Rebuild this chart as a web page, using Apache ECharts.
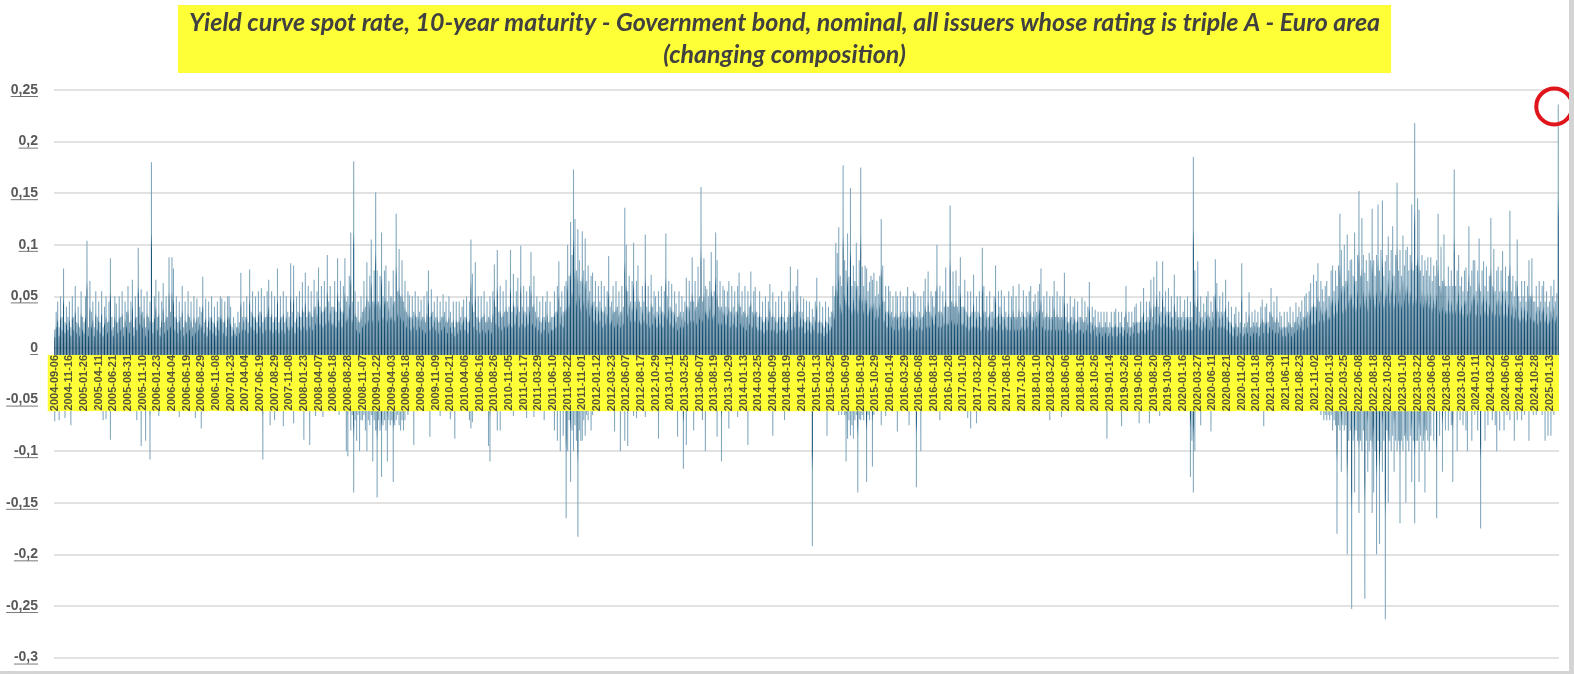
<!DOCTYPE html>
<html>
<head>
<meta charset="utf-8">
<script src="https://cdn.jsdelivr.net/npm/echarts@6/dist/echarts.min.js"></script>
<style>
  html, body { margin: 0; padding: 0; background: #fff; }
  /* chart frame: grey strip on the right and at the bottom like the screenshot */
  #main {
    width: 1569px;
    height: 671px;
    border-right: 5px solid #d4d4d4;
    border-bottom: 3px solid #d4d4d4;
  }
</style>
</head>
<body>
<div id="main"></div>
<script>
// labelled dates on the category axis (every 10th slot carries one)
const dateLabels = [
  '2004-09-06', '2004-11-16',
  '2005-01-26', '2005-04-11', '2005-06-21', '2005-08-31', '2005-11-10',
  '2006-01-23', '2006-04-04', '2006-06-19', '2006-08-29', '2006-11-08',
  '2007-01-23', '2007-04-04', '2007-06-19', '2007-08-29', '2007-11-08',
  '2008-01-23', '2008-04-07', '2008-06-18', '2008-08-28', '2008-11-07',
  '2009-01-22', '2009-04-03', '2009-06-18', '2009-08-28', '2009-11-09',
  '2010-01-21', '2010-04-06', '2010-06-16', '2010-08-26', '2010-11-05',
  '2011-01-17', '2011-03-29', '2011-06-10', '2011-08-22', '2011-11-01',
  '2012-01-12', '2012-03-23', '2012-06-07', '2012-08-17', '2012-10-29',
  '2013-01-11', '2013-03-25', '2013-06-07', '2013-08-19', '2013-10-29',
  '2014-01-13', '2014-03-25', '2014-06-09', '2014-08-19', '2014-10-29',
  '2015-01-13', '2015-03-25', '2015-06-09', '2015-08-19', '2015-10-29',
  '2016-01-14', '2016-03-29', '2016-06-08', '2016-08-18', '2016-10-28',
  '2017-01-10', '2017-03-22', '2017-06-06', '2017-08-16', '2017-10-26',
  '2018-01-10', '2018-03-22', '2018-06-06', '2018-08-16', '2018-10-26',
  '2019-01-14', '2019-03-26', '2019-06-10', '2019-08-20', '2019-10-30',
  '2020-01-16', '2020-03-27', '2020-06-11', '2020-08-21', '2020-11-02',
  '2021-01-18', '2021-03-30', '2021-06-11', '2021-08-23', '2021-11-02',
  '2022-01-13', '2022-03-25', '2022-06-08', '2022-08-18', '2022-10-28',
  '2023-01-10', '2023-03-22', '2023-06-06', '2023-08-16', '2023-10-26',
  '2024-01-11', '2024-03-22', '2024-06-06', '2024-08-16', '2024-10-28',
  '2025-01-13'
]
const slotsPerLabel = 10

// largest daily rise in each slot (one row per labelled period)
const rises = [
  .018, .035, .045, .02, .05, .03, .077, .025, .04, .03,
  .045, .02, .05, .03, .06, .025, .04, .02, .055, .03,
  .025, .05, .104, .02, .065, .035, .045, .02, .055, .03,
  .045, .025, .055, .02, .04, .05, .025, .045, .087, .03,
  .02, .05, .043, .025, .05, .03, .055, .02, .045, .035,
  .06, .025, .045, .066, .02, .05, .03, .097, .04, .057,
  .035, .05, .02, .055, .03, .045, .18, .025, .05, .066,
  .03, .055, .02, .045, .063, .025, .05, .03, .088, .035,
  .088, .077, .03, .05, .025, .045, .03, .06, .02, .045,
  .025, .055, .03, .045, .02, .05, .025, .048, .03, .04,
  .035, .069, .025, .048, .02, .045, .03, .05, .025, .04,
  .02, .045, .03, .05, .048, .025, .045, .02, .05, .05,
  .04, .02, .03, .024, .02, .035, .025, .073, .03, .045,
  .03, .05, .025, .076, .035, .055, .03, .05, .025, .055,
  .035, .058, .025, .05, .03, .055, .066, .03, .055, .025,
  .05, .03, .077, .025, .05, .03, .055, .025, .05, .035,
  .03, .082, .035, .08, .025, .05, .035, .055, .03, .064,
  .035, .073, .03, .06, .035, .055, .03, .066, .04, .055,
  .078, .04, .06, .035, .065, .04, .09, .045, .06, .04,
  .04, .065, .035, .087, .045, .065, .035, .06, .087, .045,
  .05, .07, .112, .045, .181, .055, .03, .045, .025, .05,
  .035, .065, .04, .083, .045, .07, .105, .045, .075, .151,
  .075, .045, .07, .112, .05, .075, .08, .045, .065, .05,
  .05, .075, .045, .13, .055, .096, .05, .085, .045, .065,
  .035, .055, .051, .03, .05, .035, .055, .03, .05, .035,
  .047, .03, .05, .025, .055, .075, .03, .057, .035, .045,
  .03, .05, .025, .045, .03, .052, .035, .045, .025, .05,
  .035, .025, .045, .02, .045, .025, .045, .03, .04, .047,
  .03, .05, .025, .045, .105, .072, .035, .083, .03, .05,
  .025, .05, .03, .055, .025, .045, .03, .05, .025, .055,
  .081, .04, .095, .035, .06, .03, .055, .035, .066, .035,
  .04, .095, .035, .072, .04, .055, .068, .035, .099, .04,
  .06, .035, .055, .04, .06, .093, .04, .07, .035, .05,
  .03, .045, .025, .05, .03, .045, .055, .025, .045, .03,
  .03, .055, .035, .06, .084, .04, .055, .035, .06, .065,
  .1, .07, .122, .09, .173, .125, .075, .115, .085, .065,
  .113, .075, .106, .065, .08, .055, .07, .073, .045, .065,
  .04, .06, .045, .065, .035, .06, .04, .055, .089, .04,
  .045, .06, .035, .065, .04, .055, .035, .06, .04, .136,
  .1, .055, .07, .045, .065, .102, .045, .065, .08, .045,
  .04, .06, .045, .11, .04, .06, .035, .071, .04, .055,
  .05, .035, .055, .04, .06, .035, .055, .111, .05, .065,
  .04, .062, .035, .055, .043, .03, .055, .035, .05, .035,
  .045, .068, .04, .065, .045, .088, .045, .065, .04, .079,
  .05, .156, .045, .087, .06, .057, .05, .065, .093, .05,
  .055, .112, .085, .04, .065, .04, .06, .056, .04, .055,
  .065, .035, .06, .04, .055, .035, .06, .073, .04, .055,
  .035, .06, .03, .055, .04, .074, .035, .055, .059, .035,
  .03, .055, .03, .045, .025, .05, .03, .045, .062, .03,
  .054, .03, .045, .025, .05, .03, .055, .03, .045, .025,
  .03, .055, .079, .03, .055, .035, .06, .076, .035, .05,
  .035, .048, .025, .046, .03, .045, .025, .038, .03, .045,
  .068, .025, .045, .025, .04, .02, .045, .025, .04, .03,
  .035, .06, .05, .102, .092, .117, .07, .06, .177, .085,
  .075, .111, .069, .155, .06, .08, .065, .102, .06, .085,
  .175, .079, .06, .08, .077, .055, .064, .07, .066, .073,
  .05, .065, .052, .07, .125, .08, .045, .06, .035, .06,
  .055, .035, .05, .03, .055, .05, .03, .055, .035, .05,
  .035, .05, .059, .03, .05, .035, .055, .053, .03, .05,
  .035, .05, .03, .055, .067, .035, .074, .035, .055, .05,
  .04, .055, .1, .035, .06, .035, .055, .04, .078, .04,
  .04, .138, .045, .074, .04, .075, .04, .06, .088, .04,
  .04, .066, .035, .055, .03, .055, .035, .071, .035, .05,
  .035, .055, .03, .097, .06, .035, .05, .03, .055, .035,
  .035, .05, .08, .03, .055, .04, .056, .03, .05, .035,
  .03, .055, .03, .05, .06, .03, .05, .03, .062, .03,
  .035, .056, .03, .05, .035, .055, .06, .03, .045, .052,
  .035, .055, .062, .077, .035, .05, .03, .055, .03, .05,
  .03, .05, .065, .03, .055, .03, .05, .03, .05, .073,
  .03, .043, .025, .05, .03, .04, .048, .025, .045, .03,
  .03, .049, .025, .045, .03, .04, .064, .025, .04, .03,
  .037, .02, .035, .025, .035, .02, .035, .025, .035, .02,
  .025, .035, .02, .035, .038, .02, .035, .025, .035, .02,
  .03, .06, .025, .035, .02, .035, .025, .04, .043, .025,
  .025, .045, .03, .058, .025, .045, .03, .045, .066, .03,
  .069, .04, .084, .04, .055, .035, .084, .04, .055, .035,
  .058, .035, .05, .03, .071, .035, .05, .03, .05, .03,
  .035, .047, .03, .05, .03, .045, .03, .185, .075, .04,
  .084, .035, .05, .03, .043, .035, .05, .055, .03, .045,
  .035, .05, .086, .063, .035, .05, .035, .054, .035, .066,
  .03, .045, .025, .04, .02, .033, .04, .02, .035, .025,
  .082, .02, .024, .035, .025, .054, .02, .035, .025, .037,
  .025, .035, .02, .04, .047, .025, .04, .043, .025, .035,
  .058, .03, .045, .025, .05, .025, .035, .031, .02, .035,
  .02, .035, .025, .04, .02, .035, .025, .044, .03, .04,
  .035, .046, .03, .05, .053, .035, .055, .063, .04, .071,
  .04, .065, .082, .045, .065, .057, .045, .06, .065, .05,
  .05, .075, .08, .055, .075, .06, .08, .13, .095, .06,
  .1, .065, .11, .075, .085, .086, .07, .112, .065, .09,
  .152, .07, .126, .09, .073, .085, .065, .092, .085, .135,
  .085, .07, .09, .139, .075, .095, .143, .07, .084, .09,
  .108, .075, .095, .118, .07, .09, .16, .075, .095, .07,
  .109, .08, .095, .098, .075, .09, .139, .075, .218, .08,
  .145, .134, .075, .09, .07, .085, .075, .088, .07, .088,
  .065, .08, .07, .085, .13, .06, .098, .065, .11, .06,
  .06, .079, .06, .075, .06, .173, .06, .075, .09, .06,
  .069, .055, .075, .078, .055, .118, .06, .075, .085, .085,
  .055, .075, .106, .055, .075, .084, .06, .079, .055, .07,
  .126, .06, .096, .055, .075, .079, .055, .075, .094, .055,
  .079, .055, .07, .133, .055, .07, .05, .065, .105, .05,
  .045, .065, .05, .065, .045, .06, .085, .05, .087, .045,
  .045, .06, .04, .065, .045, .06, .065, .045, .055, .04,
  .045, .06, .05, .066, .045, .053, .236
]

// largest daily fall in each slot
const falls = [
  -.071, -.04, -.05, -.07, -.035, -.045, -.04, -.068, -.03, -.045,
  -.04, -.075, -.035, -.045, -.03, -.04, -.05, -.035, -.04, -.03,
  -.045, -.035, -.05, -.04, -.03, -.045, -.04, -.035, -.05, -.04,
  -.04, -.035, -.045, -.07, -.04, -.069, -.035, -.04, -.089, -.04,
  -.035, -.045, -.04, -.05, -.035, -.04, -.03, -.045, -.04, -.035,
  -.04, -.045, -.035, -.04, -.05, -.04, -.07, -.045, -.04, -.095,
  -.045, -.04, -.09, -.04, -.05, -.108, -.045, -.04, -.05, -.035,
  -.04, -.066, -.035, -.045, -.04, -.05, -.035, -.04, -.045, -.03,
  -.035, -.04, -.045, -.035, -.04, -.067, -.04, -.035, -.045, -.04,
  -.04, -.035, -.045, -.04, -.035, -.04, -.068, -.035, -.04, -.045,
  -.078, -.04, -.035, -.045, -.04, -.05, -.035, -.04, -.045, -.035,
  -.04, -.045, -.035, -.04, -.05, -.035, -.04, -.045, -.035, -.04,
  -.035, -.04, -.045, -.035, -.04, -.035, -.045, -.04, -.035, -.04,
  -.04, -.035, -.04, -.045, -.035, -.04, -.05, -.035, -.04, -.045,
  -.045, -.04, -.108, -.04, -.05, -.045, -.04, -.075, -.04, -.045,
  -.07, -.04, -.045, -.04, -.05, -.045, -.076, -.04, -.045, -.04,
  -.045, -.04, -.05, -.073, -.04, -.045, -.05, -.04, -.045, -.05,
  -.089, -.045, -.05, -.04, -.094, -.05, -.045, -.05, -.066, -.045,
  -.05, -.045, -.055, -.067, -.05, -.045, -.055, -.05, -.06, -.05,
  -.055, -.05, -.06, -.055, -.065, -.05, -.06, -.055, -.06, -.1,
  -.105, -.06, -.08, -.065, -.14, -.07, -.09, -.065, -.1, -.07,
  -.07, -.065, -.08, -.1, -.07, -.075, -.065, -.11, -.07, -.08,
  -.145, -.07, -.08, -.125, -.075, -.07, -.08, -.11, -.07, -.075,
  -.07, -.13, -.075, -.07, -.065, -.075, -.08, -.07, -.08, -.07,
  -.06, -.065, -.06, -.055, -.06, -.094, -.06, -.055, -.06, -.05,
  -.055, -.05, -.06, -.05, -.055, -.05, -.086, -.05, -.055, -.05,
  -.05, -.045, -.05, -.066, -.045, -.05, -.045, -.05, -.045, -.05,
  -.069, -.045, -.05, -.088, -.045, -.05, -.045, -.04, -.05, -.045,
  -.045, -.05, -.045, -.07, -.078, -.072, -.05, -.045, -.05, -.045,
  -.05, -.045, -.05, -.045, -.05, -.055, -.095, -.11, -.05, -.045,
  -.05, -.045, -.08, -.05, -.08, -.045, -.05, -.045, -.05, -.045,
  -.045, -.05, -.045, -.066, -.045, -.05, -.045, -.04, -.05, -.045,
  -.045, -.04, -.068, -.045, -.04, -.05, -.045, -.067, -.04, -.045,
  -.045, -.04, -.05, -.045, -.07, -.045, -.04, -.05, -.045, -.04,
  -.05, -.08, -.06, -.09, -.055, -.1, -.06, -.085, -.06, -.165,
  -.1, -.07, -.13, -.08, -.1, -.075, -.09, -.183, -.08, -.09,
  -.09, -.07, -.085, -.065, -.07, -.06, -.08, -.065, -.06, -.055,
  -.055, -.05, -.06, -.05, -.055, -.06, -.05, -.055, -.05, -.06,
  -.05, -.055, -.081, -.05, -.055, -.05, -.1, -.055, -.05, -.09,
  -.05, -.095, -.05, -.055, -.05, -.066, -.05, -.068, -.05, -.055,
  -.05, -.045, -.05, -.067, -.045, -.05, -.045, -.05, -.045, -.05,
  -.045, -.05, -.088, -.045, -.05, -.045, -.05, -.045, -.05, -.045,
  -.05, -.045, -.05, -.045, -.05, -.086, -.05, -.045, -.05, -.117,
  -.05, -.094, -.05, -.045, -.05, -.045, -.08, -.05, -.045, -.05,
  -.05, -.045, -.07, -.05, -.1, -.05, -.045, -.05, -.045, -.05,
  -.05, -.045, -.086, -.05, -.045, -.11, -.05, -.045, -.05, -.045,
  -.078, -.045, -.05, -.045, -.05, -.045, -.067, -.045, -.05, -.045,
  -.045, -.05, -.045, -.094, -.045, -.05, -.045, -.05, -.045, -.05,
  -.045, -.04, -.05, -.045, -.04, -.05, -.045, -.04, -.05, -.045,
  -.085, -.045, -.04, -.05, -.045, -.04, -.05, -.045, -.07, -.045,
  -.045, -.04, -.05, -.045, -.04, -.045, -.05, -.04, -.045, -.05,
  -.045, -.05, -.045, -.05, -.045, -.05, -.045, -.192, -.05, -.045,
  -.05, -.045, -.05, -.045, -.05, -.045, -.05, -.085, -.05, -.045,
  -.05, -.055, -.06, -.055, -.06, -.065, -.06, -.065, -.06, -.065,
  -.11, -.088, -.07, -.085, -.075, -.088, -.07, -.065, -.14, -.069,
  -.07, -.065, -.07, -.06, -.13, -.065, -.07, -.06, -.115, -.065,
  -.06, -.055, -.06, -.055, -.075, -.06, -.055, -.066, -.055, -.06,
  -.055, -.05, -.055, -.05, -.055, -.081, -.05, -.055, -.05, -.055,
  -.05, -.055, -.05, -.075, -.05, -.055, -.05, -.055, -.135, -.05,
  -.055, -.1, -.05, -.055, -.05, -.045, -.05, -.045, -.05, -.045,
  -.045, -.05, -.045, -.05, -.07, -.045, -.05, -.045, -.05, -.045,
  -.045, -.04, -.05, -.045, -.04, -.045, -.05, -.04, -.045, -.04,
  -.045, -.04, -.045, -.068, -.045, -.078, -.04, -.045, -.04, -.073,
  -.04, -.045, -.035, -.04, -.045, -.04, -.035, -.045, -.04, -.035,
  -.045, -.04, -.035, -.045, -.04, -.035, -.04, -.045, -.035, -.04,
  -.04, -.035, -.045, -.04, -.035, -.04, -.045, -.035, -.04, -.045,
  -.035, -.04, -.045, -.035, -.04, -.045, -.04, -.035, -.045, -.04,
  -.04, -.045, -.035, -.04, -.045, -.035, -.04, -.045, -.04, -.07,
  -.045, -.04, -.035, -.045, -.04, -.035, -.04, -.067, -.04, -.035,
  -.04, -.035, -.04, -.045, -.035, -.04, -.035, -.045, -.04, -.035,
  -.035, -.04, -.045, -.035, -.04, -.035, -.045, -.04, -.035, -.04,
  -.035, -.03, -.035, -.04, -.03, -.035, -.03, -.04, -.088, -.035,
  -.03, -.035, -.03, -.035, -.04, -.03, -.035, -.03, -.076, -.035,
  -.035, -.03, -.035, -.04, -.035, -.03, -.035, -.04, -.035, -.03,
  -.073, -.035, -.04, -.035, -.04, -.035, -.04, -.073, -.035, -.04,
  -.04, -.045, -.04, -.035, -.066, -.04, -.045, -.04, -.035, -.04,
  -.04, -.035, -.045, -.04, -.035, -.04, -.045, -.04, -.035, -.045,
  -.04, -.045, -.04, -.045, -.05, -.125, -.09, -.14, -.1, -.06,
  -.06, -.055, -.075, -.05, -.045, -.05, -.045, -.05, -.045, -.081,
  -.045, -.04, -.045, -.04, -.045, -.04, -.035, -.04, -.045, -.04,
  -.035, -.04, -.035, -.03, -.035, -.04, -.035, -.03, -.035, -.04,
  -.03, -.035, -.04, -.03, -.035, -.03, -.04, -.035, -.03, -.035,
  -.035, -.03, -.035, -.04, -.035, -.076, -.035, -.04, -.035, -.03,
  -.035, -.04, -.035, -.03, -.035, -.04, -.035, -.03, -.035, -.04,
  -.035, -.03, -.04, -.035, -.03, -.035, -.04, -.035, -.04, -.035,
  -.04, -.045, -.04, -.045, -.05, -.045, -.05, -.045, -.05, -.055,
  -.05, -.055, -.05, -.06, -.065, -.06, -.07, -.065, -.07, -.065,
  -.07, -.065, -.08, -.07, -.075, -.18, -.075, -.08, -.12, -.075,
  -.08, -.075, -.2, -.09, -.08, -.253, -.09, -.14, -.08, -.09,
  -.16, -.09, -.1, -.08, -.243, -.09, -.12, -.1, -.09, -.16,
  -.14, -.1, -.2, -.09, -.19, -.1, -.12, -.09, -.263, -.08,
  -.15, -.09, -.1, -.085, -.12, -.09, -.1, -.09, -.17, -.09,
  -.1, -.085, -.15, -.09, -.1, -.085, -.13, -.09, -.17, -.09,
  -.09, -.13, -.085, -.1, -.09, -.14, -.08, -.09, -.1, -.085,
  -.06, -.09, -.055, -.165, -.06, -.085, -.055, -.12, -.06, -.08,
  -.055, -.08, -.06, -.075, -.13, -.055, -.06, -.1, -.055, -.07,
  -.055, -.075, -.05, -.08, -.1, -.055, -.06, -.09, -.05, -.065,
  -.05, -.08, -.055, -.175, -.06, -.05, -.09, -.055, -.075, -.05,
  -.055, -.07, -.05, -.075, -.1, -.05, -.08, -.055, -.05, -.08,
  -.05, -.065, -.055, -.07, -.05, -.06, -.09, -.05, -.07, -.05,
  -.05, -.07, -.045, -.065, -.05, -.06, -.09, -.05, -.045, -.065,
  -.045, -.065, -.05, -.06, -.045, -.065, -.05, -.09, -.05, -.085,
  -.05, -.085, -.045, -.065, -.05, -.055, -.05
]

const yTicks = { min: -0.3, max: 0.25, step: 0.05 }

// one category per slot; only the first slot of each period shows a date
const categories = rises.map((v, k) => {
  const d = dateLabels[Math.floor(k / slotsPerLabel)]
  const j = k % slotsPerLabel
  return j === 0 ? d : d + ' +' + j
})

const gridBox = { left: 54, right: 10, top: 90, bottom: 13.5, height: 671 - 90 - 13.5 }
// the date axis sits on the zero line, so lift it from the grid bottom
const zeroLift = gridBox.height * (0 - yTicks.min) / (yTicks.max - yTicks.min)
// yellow strip behind the date labels
const band = { gap: 7, width: 56, color: '#ffff38' }

const stops = [
  { offset: 0, color: '#86abc0' },
  { offset: 0.38, color: '#7aa2b9' },
  { offset: 0.47, color: '#1f5a7d' },
  { offset: 1, color: '#0f4567' }
]
const riseColor = { type: 'linear', x: 0, y: 0, x2: 0, y2: 1, colorStops: stops }
const fallColor = { type: 'linear', x: 0, y: 1, x2: 0, y2: 0, colorStops: stops }

// tiny image used as the background of the value labels: a line along its bottom edge
const underline = document.createElement('canvas')
underline.width = 1
underline.height = 15
const uctx = underline.getContext('2d')
uctx.fillStyle = '#6e6e6e'
uctx.fillRect(0, 14, 1, 1)

const chart = echarts.init(document.getElementById('main'))
const option = {
  animation: false,
  backgroundColor: '#fff',
  title: {
    text: 'Yield curve spot rate, 10-year maturity - Government bond, nominal, all issuers whose rating is triple A - Euro area\n(changing composition)',
    left: 'center',
    top: 5,
    backgroundColor: band.color,
    padding: [2, 11, 2, 11],
    textStyle: {
      fontFamily: 'Lato',
      fontStyle: 'italic',
      fontWeight: 'bold',
      fontSize: 25,
      lineHeight: 32,
      color: '#404040'
    }
  },
  grid: {
    left: gridBox.left,
    right: gridBox.right,
    top: gridBox.top,
    bottom: gridBox.bottom,
    containLabel: false,
    outerBoundsMode: 'none'
  },
  xAxis: [{
    type: 'category',
    data: categories,
    position: 'bottom',
    offset: -zeroLift,
    z: 10,
    axisLine: { show: false, onZero: false },
    axisTick: { show: false },
    axisLabel: {
      interval: slotsPerLabel - 1,
      rotate: 90,
      margin: band.gap,
      fontFamily: 'Liberation Sans',
      fontSize: 11,
      fontWeight: 'bold',
      lineHeight: 14,
      color: '#55553a',
      backgroundColor: band.color,
      padding: 0
    },
    splitLine: { show: false }
  }, {
    // same categories, only used to paint the yellow strip under the labels
    type: 'category',
    data: categories,
    position: 'bottom',
    offset: -(zeroLift - band.gap - band.width / 2),
    z: 9,
    axisLine: {
      show: true,
      onZero: false,
      lineStyle: { color: band.color, width: band.width, cap: 'butt' }
    },
    axisTick: { show: false },
    axisLabel: { show: false },
    splitLine: { show: false }
  }],
  yAxis: {
    type: 'value',
    min: yTicks.min,
    max: yTicks.max,
    interval: yTicks.step,
    axisLine: { show: false },
    axisTick: { show: false },
    axisLabel: {
      margin: 16,
      fontFamily: 'Liberation Sans',
      fontSize: 14,
      fontWeight: 'bold',
      color: '#595959',
      formatter: v => '{u|' + String(Math.round(v * 100) / 100).replace('.', ',') + '}',
      rich: {
        u: {
          fontFamily: 'Liberation Sans',
          fontSize: 14,
          fontWeight: 'bold',
          color: '#595959',
          lineHeight: 15,
          backgroundColor: { image: underline }
        }
      }
    },
    splitLine: { lineStyle: { color: '#d9d9d9', width: 1.5 } }
  },
  series: [{
    name: 'rise',
    type: 'bar',
    data: rises,
    barWidth: '75%',
    barGap: '-100%',
    itemStyle: { color: riseColor },
    emphasis: { disabled: true },
    markPoint: {
      symbol: 'circle',
      symbolSize: 36,
      symbolOffset: [-4, 2],
      label: { show: false },
      itemStyle: { color: 'rgba(0,0,0,0)', borderColor: '#e0141b', borderWidth: 4 },
      data: [{ type: 'max' }]
    }
  }, {
    name: 'fall',
    type: 'bar',
    data: falls,
    barWidth: '75%',
    barGap: '-100%',
    itemStyle: { color: fallColor },
    emphasis: { disabled: true }
  }]
}
chart.setOption(option)
</script>
</body>
</html>
